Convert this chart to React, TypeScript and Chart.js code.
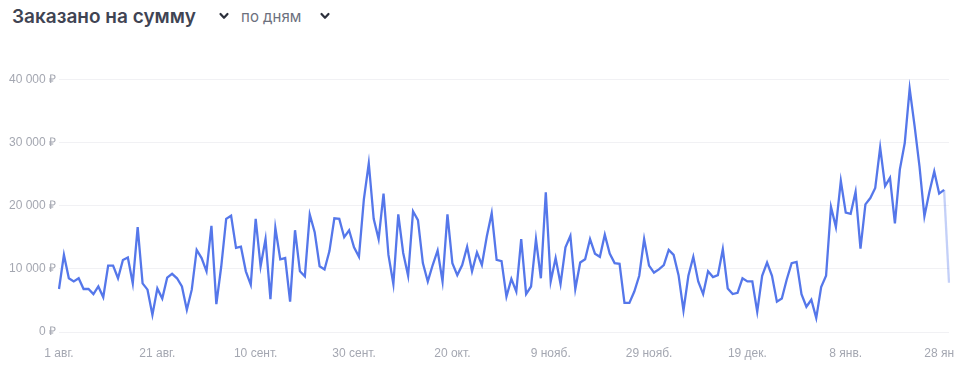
import React, { useEffect, useRef } from "react";
import { Chart, registerables } from "chart.js";

Chart.register(...registerables);

const monthNames = ["авг.", "сент.", "окт.", "нояб.", "дек.", "янв."];
const monthDays = [31, 30, 31, 30, 31, 29];

const augValues = [6800, 12200, 8500, 8000, 8500, 6800, 6800, 6000, 7200, 5500, 10500, 10500, 8500, 11400, 11800, 7700, 16600, 7700, 6700, 2700, 6900, 5300, 8600, 9200, 8500, 7200, 3500, 6700, 13000, 11700, 9600];
const sepValues = [16800, 4400, 10400, 17900, 18400, 13300, 13500, 9600, 7500, 17900, 10400, 14700, 5200, 16500, 11500, 11700, 4800, 16100, 9600, 8800, 18600, 15800, 10400, 9900, 12800, 18000, 17900, 15000, 16100, 13400];
const octValues = [11900, 21000, 26700, 17900, 14700, 21900, 12200, 7600, 18600, 12500, 8900, 19100, 17700, 10900, 8000, 10600, 12900, 8000, 18600, 10900, 9000, 10600, 13500, 9600, 12600, 10600, 15100, 18800, 11400, 11200, 5600];
const novValues = [8400, 6400, 14700, 6000, 7200, 14700, 8500, 22100, 8000, 11700, 7600, 13400, 15200, 6800, 11000, 11500, 14700, 12400, 11900, 15400, 12400, 10900, 10800, 4600, 4600, 6400, 8900, 14700, 10500, 9400];
const decValues = [9900, 10600, 13000, 12200, 9000, 3400, 8900, 11900, 8000, 6000, 9600, 8700, 9000, 13100, 6900, 6000, 6200, 8500, 8000, 8000, 3200, 8900, 11000, 8900, 4800, 5300, 8300, 10900, 11100, 6000, 4000];
const janValues = [5100, 2200, 7100, 8900, 19800, 16600, 23900, 18900, 18700, 22200, 13200, 20200, 21200, 22800, 29200, 23100, 24400, 17200, 25700, 29900, 38500, 32600, 26200, 18300, 22100, 25400, 21900, 22500, 7800];

const yTicks = [0, 10000, 20000, 30000, 40000];
const tickEvery = 20;

const LINE = "#5577ea";
const LINE_LIGHT = "rgba(85,119,234,0.35)";

function buildLabels(): string[] {
  const out: string[] = [];
  monthNames.forEach((m, k) => {
    for (let d = 1; d <= monthDays[k]; d++) out.push(d + " " + m);
  });
  return out;
}

function fmt(v: number): string {
  const s = String(Math.round(v));
  return s.replace(/\B(?=(\d{3})+(?!\d))/g, " ") + " ₽";
}

const Chevron = () => (
  <svg width="12" height="12" viewBox="0 0 12 12" style={{ display: "block" }}>
    <polyline points="2.5,4 6,7.8 9.5,4" fill="none" stroke="#2c303c" strokeWidth="2.2" strokeLinecap="round" strokeLinejoin="round" />
  </svg>
);

export default function App() {
  const ref = useRef<HTMLCanvasElement | null>(null);

  useEffect(() => {
    if (!ref.current) return;
    const labels = buildLabels();
    const data = [...augValues, ...sepValues, ...octValues, ...novValues, ...decValues, ...janValues];
    const last = data.length - 1;
    const chart = new Chart(ref.current, {
      type: "line",
      data: {
        labels,
        datasets: [
          {
            data,
            borderColor: LINE,
            borderWidth: 2.3,
            pointRadius: 0,
            tension: 0,
            fill: false,
            segment: {
              borderColor: (ctx: any) => (ctx.p1DataIndex === last ? LINE_LIGHT : LINE),
            },
          },
        ],
      },
      options: {
        animation: false,
        responsive: false,
        maintainAspectRatio: false,
        layout: { padding: { left: 0, right: 5, top: 0, bottom: 0 } },
        plugins: { legend: { display: false }, tooltip: { enabled: false } },
        scales: {
          x: {
            type: "category",
            offset: false,
            border: { display: false },
            grid: { display: false, drawTicks: false },
            ticks: {
              autoSkip: false,
              maxRotation: 0,
              minRotation: 0,
              padding: 14,
              color: "#a4a7b1",
              font: { family: "'Liberation Sans', Arial, sans-serif", size: 12 },
              callback: (_v: any, i: number) => (i % tickEvery === 0 ? labels[i] : ""),
            },
            afterFit: (s: any) => {
              s.height = 48;
              s.paddingLeft = 0;
              s.paddingRight = 0;
            },
          },
          y: {
            min: yTicks[0],
            max: yTicks[yTicks.length - 1],
            border: { display: false },
            grid: { color: "#f1f1f4", drawTicks: false, lineWidth: 1 },
            afterBuildTicks: (s: any) => {
              s.ticks = yTicks.map((v) => ({ value: v }));
            },
            ticks: {
              padding: 3,
              color: "#a4a7b1",
              font: { family: "'Liberation Sans', Arial, sans-serif", size: 12 },
              callback: (v: any) => fmt(Number(v)),
            },
            afterFit: (s: any) => {
              s.width = 59;
            },
          },
        },
      },
    });
    return () => chart.destroy();
  }, []);

  return (
    <div style={{ position: "fixed", left: 0, top: 0, width: 974, height: 380, background: "#fff", overflow: "hidden" }}>
      <div style={{ position: "absolute", left: 12, top: 1, display: "flex", alignItems: "center", height: 30 }}>
        <span style={{ fontFamily: "Inter, sans-serif", fontWeight: 600, fontSize: 19, color: "#3f4453", letterSpacing: 0 }}>
          Заказано на сумму
        </span>
        <span style={{ marginLeft: 22 }}>
          <Chevron />
        </span>
        <span style={{ marginLeft: 11, fontFamily: "Inter, sans-serif", fontWeight: 400, fontSize: 15, color: "#6c707d" }}>
          по дням
        </span>
        <span style={{ marginLeft: 18 }}>
          <Chevron />
        </span>
      </div>
      <div style={{ position: "absolute", left: 0, top: 69, width: 954, height: 311 }}>
        <canvas ref={ref} width={954} height={311} style={{ display: "block", width: 954, height: 311 }} />
      </div>
    </div>
  );
}
